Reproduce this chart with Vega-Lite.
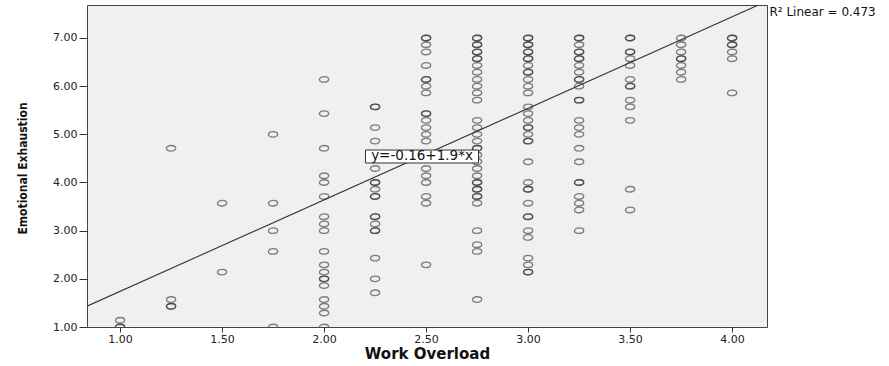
{
  "$schema": "https://vega.github.io/schema/vega-lite/v6.json",
  "width": 680,
  "height": 322,
  "autosize": {"type": "none"},
  "padding": {"left": 87, "top": 5, "right": 122, "bottom": 39},
  "background": "white",
  "config": {
    "view": {"fill": "#f0f0f0", "stroke": "#444444", "strokeWidth": 1},
    "axis": {"grid": false, "domain": false, "tickColor": "#333333", "labelColor": "#222222", "labelFont": "DejaVu Sans", "labelFontSize": 11, "titleColor": "#111111"}
  },
  "data": {"values": [
    {"x":1,"y":1.00},{"x":1,"y":1.00},{"x":1,"y":1.14},
    {"x":1.25,"y":4.71},{"x":1.25,"y":1.57},{"x":1.25,"y":1.43},{"x":1.25,"y":1.43},
    {"x":1.5,"y":3.57},{"x":1.5,"y":2.14},
    {"x":1.75,"y":5.00},{"x":1.75,"y":3.57},{"x":1.75,"y":3.00},{"x":1.75,"y":2.57},{"x":1.75,"y":1.00},
    {"x":2,"y":6.14},{"x":2,"y":5.43},{"x":2,"y":4.71},{"x":2,"y":4.14},{"x":2,"y":4.00},{"x":2,"y":3.71},{"x":2,"y":3.29},{"x":2,"y":3.14},{"x":2,"y":3.00},{"x":2,"y":2.57},{"x":2,"y":2.29},{"x":2,"y":2.14},{"x":2,"y":2.00},{"x":2,"y":2.00},{"x":2,"y":1.86},{"x":2,"y":1.57},{"x":2,"y":1.43},{"x":2,"y":1.29},{"x":2,"y":1.00},
    {"x":2.25,"y":5.57},{"x":2.25,"y":5.57},{"x":2.25,"y":5.14},{"x":2.25,"y":4.86},{"x":2.25,"y":4.29},{"x":2.25,"y":4.00},{"x":2.25,"y":4.00},{"x":2.25,"y":3.86},{"x":2.25,"y":3.71},{"x":2.25,"y":3.71},{"x":2.25,"y":3.29},{"x":2.25,"y":3.29},{"x":2.25,"y":3.14},{"x":2.25,"y":3.00},{"x":2.25,"y":3.00},{"x":2.25,"y":2.43},{"x":2.25,"y":2.00},{"x":2.25,"y":1.71},
    {"x":2.5,"y":7.00},{"x":2.5,"y":7.00},{"x":2.5,"y":6.86},{"x":2.5,"y":6.71},{"x":2.5,"y":6.43},{"x":2.5,"y":6.14},{"x":2.5,"y":6.14},{"x":2.5,"y":6.00},{"x":2.5,"y":5.86},{"x":2.5,"y":5.43},{"x":2.5,"y":5.43},{"x":2.5,"y":5.29},{"x":2.5,"y":5.14},{"x":2.5,"y":5.00},{"x":2.5,"y":4.86},{"x":2.5,"y":4.29},{"x":2.5,"y":4.14},{"x":2.5,"y":4.00},{"x":2.5,"y":3.71},{"x":2.5,"y":3.57},{"x":2.5,"y":2.29},
    {"x":2.75,"y":7.00},{"x":2.75,"y":7.00},{"x":2.75,"y":6.86},{"x":2.75,"y":6.86},{"x":2.75,"y":6.71},{"x":2.75,"y":6.71},{"x":2.75,"y":6.57},{"x":2.75,"y":6.57},{"x":2.75,"y":6.43},{"x":2.75,"y":6.29},{"x":2.75,"y":6.14},{"x":2.75,"y":6.00},{"x":2.75,"y":5.86},{"x":2.75,"y":5.71},{"x":2.75,"y":5.29},{"x":2.75,"y":5.14},{"x":2.75,"y":5.00},{"x":2.75,"y":4.86},{"x":2.75,"y":4.71},{"x":2.75,"y":4.71},{"x":2.75,"y":4.57},{"x":2.75,"y":4.43},{"x":2.75,"y":4.29},{"x":2.75,"y":4.14},{"x":2.75,"y":4.00},{"x":2.75,"y":4.00},{"x":2.75,"y":3.86},{"x":2.75,"y":3.86},{"x":2.75,"y":3.71},{"x":2.75,"y":3.71},{"x":2.75,"y":3.57},{"x":2.75,"y":3.00},{"x":2.75,"y":2.71},{"x":2.75,"y":2.57},{"x":2.75,"y":1.57},
    {"x":3,"y":7.00},{"x":3,"y":7.00},{"x":3,"y":6.86},{"x":3,"y":6.86},{"x":3,"y":6.71},{"x":3,"y":6.71},{"x":3,"y":6.57},{"x":3,"y":6.57},{"x":3,"y":6.43},{"x":3,"y":6.29},{"x":3,"y":6.29},{"x":3,"y":6.14},{"x":3,"y":6.00},{"x":3,"y":5.86},{"x":3,"y":5.57},{"x":3,"y":5.43},{"x":3,"y":5.29},{"x":3,"y":5.14},{"x":3,"y":5.14},{"x":3,"y":5.00},{"x":3,"y":4.86},{"x":3,"y":4.86},{"x":3,"y":4.43},{"x":3,"y":4.00},{"x":3,"y":3.86},{"x":3,"y":3.86},{"x":3,"y":3.57},{"x":3,"y":3.29},{"x":3,"y":3.29},{"x":3,"y":3.00},{"x":3,"y":2.86},{"x":3,"y":2.43},{"x":3,"y":2.29},{"x":3,"y":2.14},{"x":3,"y":2.14},
    {"x":3.25,"y":7.00},{"x":3.25,"y":7.00},{"x":3.25,"y":6.86},{"x":3.25,"y":6.71},{"x":3.25,"y":6.71},{"x":3.25,"y":6.57},{"x":3.25,"y":6.57},{"x":3.25,"y":6.43},{"x":3.25,"y":6.29},{"x":3.25,"y":6.14},{"x":3.25,"y":6.14},{"x":3.25,"y":6.00},{"x":3.25,"y":5.71},{"x":3.25,"y":5.71},{"x":3.25,"y":5.29},{"x":3.25,"y":5.14},{"x":3.25,"y":5.00},{"x":3.25,"y":4.71},{"x":3.25,"y":4.43},{"x":3.25,"y":4.00},{"x":3.25,"y":4.00},{"x":3.25,"y":3.71},{"x":3.25,"y":3.57},{"x":3.25,"y":3.43},{"x":3.25,"y":3.00},
    {"x":3.5,"y":7.00},{"x":3.5,"y":7.00},{"x":3.5,"y":6.71},{"x":3.5,"y":6.71},{"x":3.5,"y":6.57},{"x":3.5,"y":6.43},{"x":3.5,"y":6.14},{"x":3.5,"y":6.00},{"x":3.5,"y":6.00},{"x":3.5,"y":5.71},{"x":3.5,"y":5.57},{"x":3.5,"y":5.29},{"x":3.5,"y":3.86},{"x":3.5,"y":3.43},
    {"x":3.75,"y":7.00},{"x":3.75,"y":6.86},{"x":3.75,"y":6.71},{"x":3.75,"y":6.57},{"x":3.75,"y":6.57},{"x":3.75,"y":6.43},{"x":3.75,"y":6.29},{"x":3.75,"y":6.14},
    {"x":4,"y":7.00},{"x":4,"y":7.00},{"x":4,"y":6.86},{"x":4,"y":6.86},{"x":4,"y":6.71},{"x":4,"y":6.57},{"x":4,"y":5.86}
  ]},
  "encoding": {
    "x": {"field": "x", "type": "quantitative", "scale": {"domain": [0.838, 4.171], "nice": false, "zero": false},
      "axis": {"title": "Work Overload", "values": [1, 1.5, 2, 2.5, 3, 3.5, 4], "format": ".2f", "tickSize": 5, "labelPadding": 1,
        "titleFont": "DejaVu Sans", "titleFontWeight": "bold", "titleFontSize": 15, "titleY": 26, "titleBaseline": "middle"}},
    "y": {"field": "y", "type": "quantitative", "scale": {"domain": [1, 7.685], "nice": false, "zero": false},
      "axis": {"title": "Emotional Exhaustion", "values": [1, 2, 3, 4, 5, 6, 7], "format": ".2f", "tickSize": 8, "labelPadding": 2,
        "titleFont": "DejaVu Sans Condensed", "titleFontWeight": "bold", "titleFontSize": 12,
        "titleX": -65, "titleY": 163, "titleAngle": 270, "titleAlign": "center", "titleBaseline": "middle"}}
  },
  "layer": [
    {"mark": {"type": "point", "shape": "M-1,0A1,0.6 0 1,1 1,0A1,0.6 0 1,1 -1,0Z", "filled": false, "size": 85, "stroke": "#303030", "strokeWidth": 1.35, "strokeOpacity": 0.85, "clip": true}},
    {"data": {"values": [{"x": 0.838, "y": 1.432}, {"x": 4.171, "y": 7.765}]},
     "mark": {"type": "line", "color": "#333333", "strokeWidth": 1.1, "clip": true}},
    {"data": {"values": [{"x": 2.203, "x2": 2.757, "y": 4.405, "y2": 4.674}]},
     "mark": {"type": "rect", "fill": "white", "stroke": "#333333", "strokeWidth": 1},
     "encoding": {"x2": {"field": "x2"}, "y2": {"field": "y2"}}},
    {"data": {"values": [{"x": 2.48, "y": 4.54, "label": "y=-0.16+1.9*x"}]},
     "mark": {"type": "text", "font": "DejaVu Sans", "fontSize": 13.5, "color": "#111111", "align": "center", "baseline": "middle"},
     "encoding": {"text": {"field": "label"}}},
    {"data": {"values": [{"x": 4.183, "y": 7.54, "label": "R² Linear = 0.473"}]},
     "mark": {"type": "text", "font": "DejaVu Sans", "fontSize": 12, "color": "#111111", "align": "left", "baseline": "middle"},
     "encoding": {"text": {"field": "label"}}}
  ]
}
